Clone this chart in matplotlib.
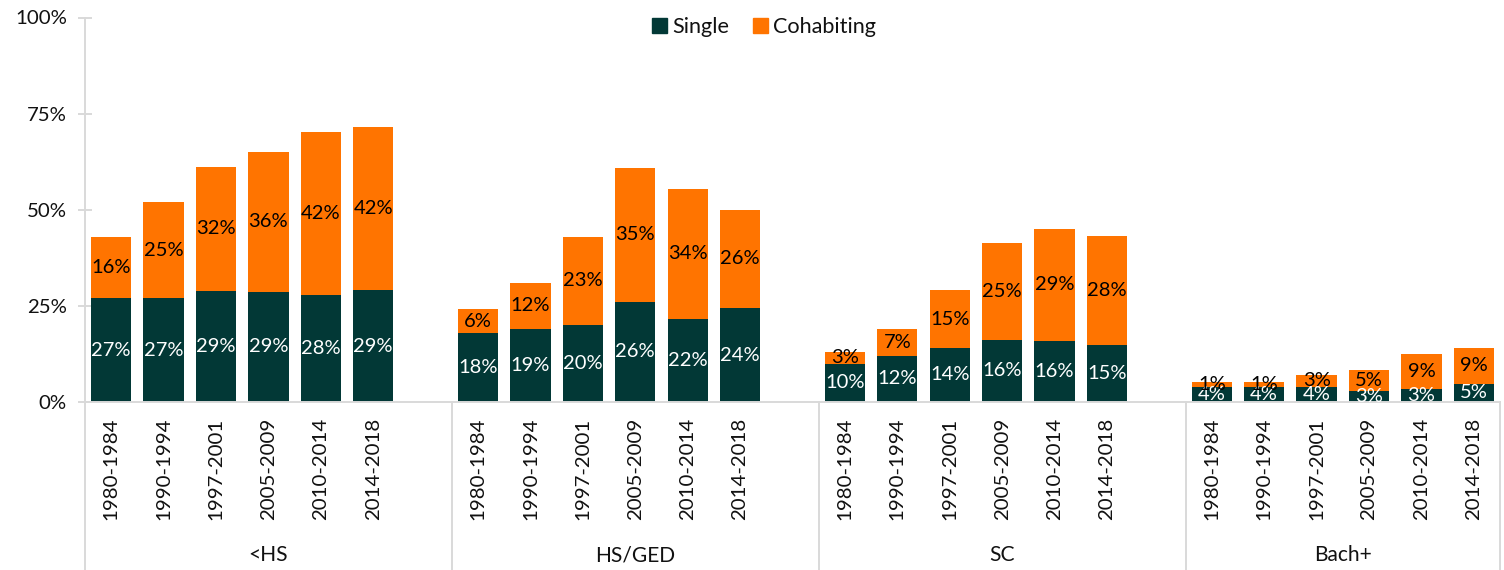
import matplotlib
matplotlib.use('Agg')
import matplotlib.pyplot as plt
from matplotlib import transforms
from matplotlib.patches import Patch
import numpy as np

plt.rcParams['font.family'] = ['Lato', 'DejaVu Sans']

groups = ['<HS', 'HS/GED', 'SC', 'Bach+']
periods = ['1980-1984', '1990-1994', '1997-2001', '2005-2009', '2010-2014', '2014-2018']

single_lths = [27.0, 27.0, 28.9, 28.7, 27.8, 29.1]
cohab_lths = [16.0, 25.0, 32.2, 36.4, 42.4, 42.4]
single_hs = [17.9, 19.0, 20.0, 26.1, 21.6, 24.4]
cohab_hs = [6.2, 12.0, 23.0, 34.8, 33.9, 25.6]
single_sc = [10.0, 12.0, 14.1, 16.2, 15.9, 14.9]
cohab_sc = [3.0, 7.0, 14.9, 25.2, 29.2, 28.3]
single_ba = [3.9, 3.9, 3.9, 2.9, 3.3, 4.8]
cohab_ba = [1.3, 1.3, 3.2, 5.4, 9.2, 9.2]

single_all = [single_lths, single_hs, single_sc, single_ba]
cohab_all = [cohab_lths, cohab_hs, cohab_sc, cohab_ba]

C_SINGLE = '#023836'
C_COHAB = '#FF7400'
GRID = '#d9d9d9'
TXT = '#111111'

fig = plt.figure(figsize=(15.04, 5.70), dpi=100)
renderer = fig.canvas.get_renderer()


def fit_size(s, target_px, base=15.0):
    t = fig.text(0, 0, s, fontsize=base)
    w = t.get_window_extent(renderer).width
    t.remove()
    return base * target_px / w


fs_xtick = fit_size('1980-1984', 102)
fs_ytick = fit_size('100%', 52)
fs_data = fit_size('27%', 39.5)
fs_leg = fit_size('Cohabiting', 103)
fs_group = fit_size('Bach+', 58)

ax = fig.add_axes([85/1504, 1-402/570, (1500-85)/1504, (402-17.5)/570])

slot = 7
xticks, xlabels = [], []
for g, name in enumerate(groups):
    xs = np.arange(len(periods)) + g*slot
    s = np.array(single_all[g])
    c = np.array(cohab_all[g])
    ax.bar(xs, s, width=0.77, color=C_SINGLE, zorder=2)
    ax.bar(xs, c, width=0.77, bottom=s, color=C_COHAB, zorder=2)
    for x, sv, cv in zip(xs, s, c):
        ax.text(x, sv/2, f"{sv:.0f}%", ha='center', va='center', color='white',
                fontsize=fs_data, zorder=3, clip_on=True)
        ax.text(x, sv + cv/2, f"{cv:.0f}%", ha='center', va='center', color='black',
                fontsize=fs_data, zorder=3, clip_on=True)
    xticks.extend(xs)
    xlabels.extend(periods)

ax.set_xlim(-0.5, len(groups)*slot - 1.5)
ax.set_ylim(0, 100)
ax.set_yticks([0, 25, 50, 75, 100])
ax.set_yticklabels(['0%', '25%', '50%', '75%', '100%'])
ax.set_xticks(xticks)
ax.set_xticklabels(xlabels, rotation=90, va='top', ha='center')

for sp in ['top', 'right']:
    ax.spines[sp].set_visible(False)
ax.spines['left'].set_color(GRID)
ax.spines['bottom'].set_color(GRID)
ax.spines['left'].set_linewidth(1.4)
ax.spines['bottom'].set_linewidth(1.4)

ax.tick_params(axis='y', direction='inout', length=10, width=1.4, color=GRID,
               labelsize=fs_ytick, labelcolor=TXT, pad=8)
ax.tick_params(axis='x', length=0, labelsize=fs_xtick, labelcolor=TXT, pad=11)

# group separators extending below the axis
trans = transforms.blended_transform_factory(ax.transData, ax.transAxes)
for b in [-0.5 + k*slot for k in range(len(groups))] + [len(groups)*slot - 1.5]:
    ax.plot([b, b], [0, -1], transform=trans, color=GRID, lw=1.4, clip_on=False, zorder=1)

# group labels
trans2 = transforms.blended_transform_factory(ax.transData, fig.transFigure)
for g, name in enumerate(groups):
    lo = -0.5 + g*slot
    hi = min(lo + slot, len(groups)*slot - 1.5)
    ax.text((lo + hi)/2, 1-555/570, name, transform=trans2, ha='center', va='center',
            fontsize=fs_group, color=TXT)

handles = [Patch(color=C_SINGLE, label='Single'), Patch(color=C_COHAB, label='Cohabiting')]
fig.legend(handles=handles, loc='center', bbox_to_anchor=(764/1504, 1-27/570), ncol=2,
           frameon=False, fontsize=fs_leg, handlelength=0.7, handleheight=0.7,
           handletextpad=0.25, columnspacing=1.1, labelcolor=TXT)

fig.savefig('out.png', dpi=100)
